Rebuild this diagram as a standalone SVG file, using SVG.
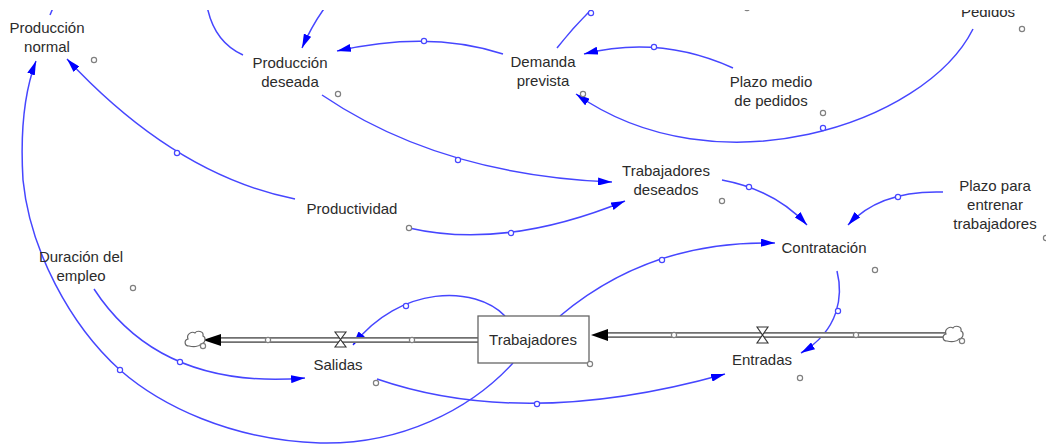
<svg xmlns="http://www.w3.org/2000/svg" width="1046" height="444" viewBox="0 0 1046 444">
<style>
.t{font-family:"Liberation Sans",Arial,sans-serif;font-size:15px;fill:#2b2b2b;text-anchor:middle}
.lk{fill:none;stroke:#4646ff;stroke-width:1.5}
.lka{fill:none;stroke:#4646ff;stroke-width:1.5;marker-end:url(#ah)}
.hc{fill:#fff;stroke:#4646ff;stroke-width:1.2}
.gc{fill:#fff;stroke:#808080;stroke-width:1.2}
.po{fill:none;stroke:#707070;stroke-width:6}
.pi{fill:none;stroke:#fff;stroke-width:2.6}
.vl{fill:#fff;stroke:#333;stroke-width:1.1}
.cl{fill:#fff;stroke:#666;stroke-width:1.2}
</style>
<defs>
<marker id="ah" viewBox="0 0 14 8" refX="14" refY="4" markerWidth="14" markerHeight="8" markerUnits="userSpaceOnUse" orient="auto">
<path d="M0,0 L14,4 L0,8 Z" fill="#0000ff"/>
</marker>
<clipPath id="clip"><rect x="0" y="10" width="1046" height="434"/></clipPath>
<path id="cloud" d="M189 346 C184 346,184 340,188 339 C186 334,192 331,195 333 C197 330,204 331,203 336 C206 337,206 343,201 344 C199 347,193 347,189 346 Z"/>
</defs>
<rect width="1046" height="444" fill="#fff"/>
<g clip-path="url(#clip)">
<g id="connectors">
<path class="lk" d="M53 8 L50 15"/>
<path class="lk" d="M207 6 Q214 42 243 55"/>
<path class="lka" d="M326 6 Q312 25 302 48"/>
<path class="lka" d="M503 54 Q430 30 337 51"/>
<circle class="hc" cx="424" cy="41" r="2.6"/>
<path class="lk" d="M557 48 Q575 25 597 4"/>
<circle class="hc" cx="591" cy="13" r="2.6"/>
<path class="lka" d="M733 68 Q660 35 584 54"/>
<circle class="hc" cx="654" cy="47" r="2.6"/>
<path class="lka" d="M973 29 C925 125,715 192,576 94"/>
<circle class="hc" cx="823" cy="128" r="2.6"/>
<path class="lka" d="M322 95 Q440 175 612 182"/>
<circle class="hc" cx="458" cy="160" r="2.6"/>
<path class="lka" d="M295 199 Q175 175 67 59"/>
<circle class="hc" cx="177" cy="153" r="2.6"/>
<path class="lka" d="M409 228 Q505 250 625 201"/>
<circle class="hc" cx="511" cy="233" r="2.6"/>
<path class="lka" d="M722 180 Q775 190 807 225"/>
<circle class="hc" cx="749" cy="187" r="2.6"/>
<path class="lka" d="M943 192 Q880 190 848 225"/>
<circle class="hc" cx="898" cy="197" r="2.6"/>
<path class="lka" d="M560 316 Q650 240 775 243"/>
<circle class="hc" cx="662" cy="260" r="2.6"/>
<path class="lka" d="M837 271 C843 295,840 330,801 353"/>
<circle class="hc" cx="838" cy="311" r="2.6"/>
<path class="lka" d="M505 316 C475 285,400 285,353 345"/>
<circle class="hc" cx="406" cy="306" r="2.6"/>
<path class="lka" d="M94 289 Q160 390 305 378"/>
<circle class="hc" cx="180" cy="362" r="2.6"/>
<path class="lka" d="M377 379 Q525 430 725 374"/>
<circle class="hc" cx="537" cy="404" r="2.6"/>
<path class="lka" d="M513 363 C470 410,400 445,320 443 C230 440,160 405,120 370 C70 325,30 250,23 180 C20 130,25 90,36 61"/>
<circle class="hc" cx="120" cy="370" r="2.6"/>
</g>
<g id="flow-salidas">
<path class="po" d="M221 340 H478"/>
<path class="pi" d="M221 340 H478"/>
<polygon points="203,340 221,334 221,346" fill="#000"/>
<use href="#cloud" class="cl"/>
<circle class="gc" cx="203" cy="346" r="2.6"/>
<circle class="gc" cx="268" cy="340" r="2.6"/>
<circle class="gc" cx="412" cy="340" r="2.6"/>
<path class="vl" d="M335 332 L346 332 L335 347 L346 347 Z"/>
<text class="t" x="338" y="370">Salidas</text>
<circle class="gc" cx="376" cy="383" r="2.6"/>
</g>
<g id="flow-entradas">
<path class="po" d="M608 335 H946"/>
<path class="pi" d="M608 335 H946"/>
<polygon points="591,335 608,329 608,341" fill="#000"/>
<use href="#cloud" class="cl" transform="translate(758,-5)"/>
<circle class="gc" cx="962" cy="341" r="2.6"/>
<circle class="gc" cx="674" cy="335" r="2.6"/>
<circle class="gc" cx="856" cy="335" r="2.6"/>
<path class="vl" d="M757 327 L768 327 L757 343 L768 343 Z"/>
<text class="t" x="762" y="365">Entradas</text>
<circle class="gc" cx="800" cy="378" r="2.6"/>
</g>
<g id="stock-trabajadores">
<rect x="478" y="316" width="111" height="47" fill="#fff" stroke="#666" stroke-width="1.3"/>
<text class="t" x="533" y="345">Trabajadores</text>
<circle class="gc" cx="590" cy="364" r="2.6"/>
</g>
<g id="produccion-normal">
<text class="t" x="47" y="33">Producción</text>
<text class="t" x="47" y="52">normal</text>
<circle class="gc" cx="94" cy="60" r="2.6"/>
</g>
<g id="produccion-deseada">
<text class="t" x="290" y="68">Producción</text>
<text class="t" x="290" y="87">deseada</text>
<circle class="gc" cx="338" cy="94" r="2.6"/>
</g>
<g id="demanda-prevista">
<text class="t" x="543" y="67">Demanda</text>
<text class="t" x="543" y="86">prevista</text>
<circle class="gc" cx="583" cy="94" r="2.6"/>
</g>
<g id="plazo-medio">
<text class="t" x="771" y="87">Plazo medio</text>
<text class="t" x="771" y="106">de pedidos</text>
<circle class="gc" cx="823" cy="113" r="2.6"/>
</g>
<g id="pedidos">
<text class="t" x="988" y="17">Pedidos</text>
<circle class="gc" cx="1022" cy="29" r="2.6"/>
</g>
<g id="top-mark">
<circle class="gc" cx="747" cy="8" r="2.6"/>
</g>
<g id="productividad">
<text class="t" x="352" y="214">Productividad</text>
<circle class="gc" cx="409" cy="228" r="2.6"/>
</g>
<g id="trabajadores-deseados">
<text class="t" x="666" y="176">Trabajadores</text>
<text class="t" x="666" y="195">deseados</text>
<circle class="gc" cx="722" cy="201" r="2.6"/>
</g>
<g id="contratacion">
<text class="t" x="824" y="253">Contratación</text>
<circle class="gc" cx="875" cy="270" r="2.6"/>
</g>
<g id="plazo-entrenar">
<text class="t" x="995" y="191">Plazo para</text>
<text class="t" x="995" y="210">entrenar</text>
<text class="t" x="995" y="229">trabajadores</text>
<circle class="gc" cx="1046" cy="238" r="2.6"/>
</g>
<g id="duracion-empleo">
<text class="t" x="81" y="262">Duración del</text>
<text class="t" x="81" y="281">empleo</text>
<circle class="gc" cx="133" cy="288" r="2.6"/>
</g>
</g>
</svg>
